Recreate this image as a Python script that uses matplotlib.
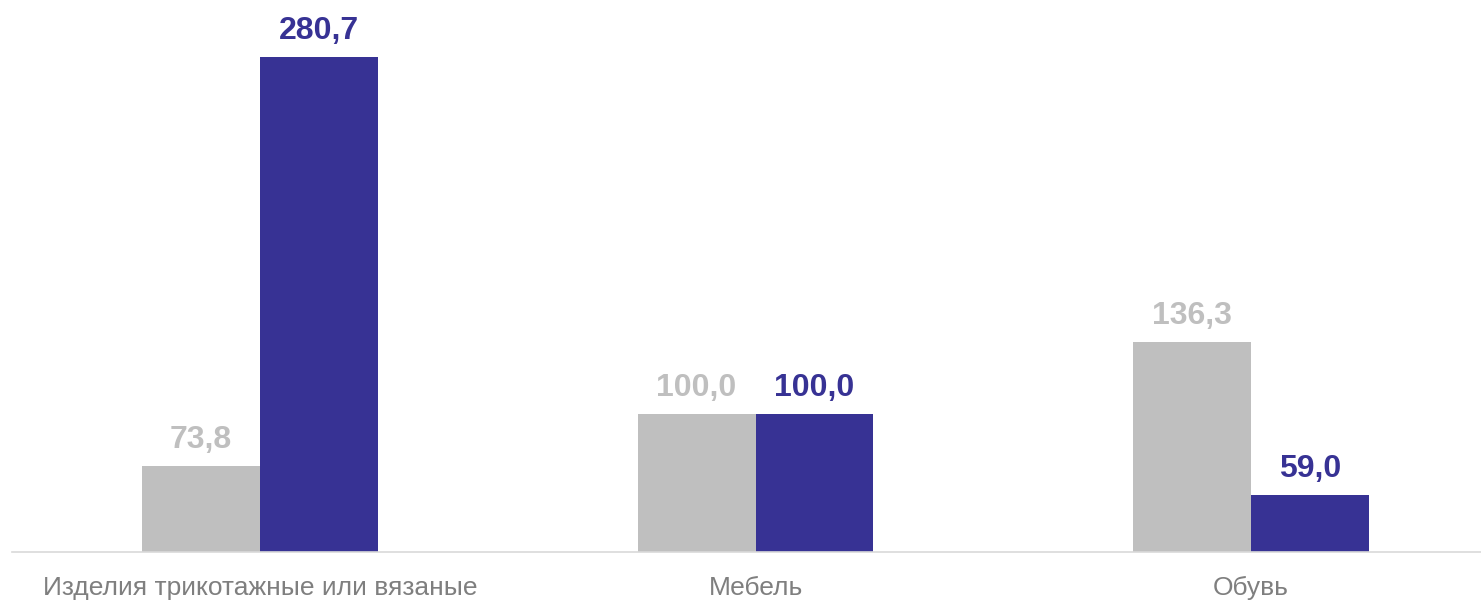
import numpy as np
import matplotlib.pyplot as plt

plt.rcParams['font.family'] = ['Liberation Sans', 'DejaVu Sans']

categories = ["Изделия трикотажные или вязаные", "Мебель", "Обувь"]
series_a = [73.8, 100.0, 136.3]
series_b = [280.7, 100.0, 59.0]

gray = "#bfbfbf"
blue = "#373294"

fig = plt.figure(figsize=(14.81, 6), dpi=100)
ax = fig.add_axes([12 / 1481, 48 / 600, 1 - 12 / 1481, 552 / 600])

x = np.arange(len(categories))
w = 0.238
bars_a = ax.bar(x - w / 2, series_a, w, color=gray)
bars_b = ax.bar(x + w / 2, series_b, w, color=blue)

def fmt(v):
    return f"{v:.1f}".replace(".", ",")

for b, v in zip(bars_a, series_a):
    ax.annotate(fmt(v), (b.get_x() + b.get_width() / 2, v), xytext=(0, 8),
                textcoords="offset points", ha="center", va="bottom",
                fontsize=23, fontweight="bold", color=gray)
for b, v in zip(bars_b, series_b):
    ax.annotate(fmt(v), (b.get_x() + b.get_width() / 2, v), xytext=(0, 8),
                textcoords="offset points", ha="center", va="bottom",
                fontsize=23, fontweight="bold", color=blue)

ax.set_ylim(30.2, 309.6)
ax.set_xlim(-0.5005, 2.464)
ax.set_xticks(x)
ax.set_xticklabels(categories, fontsize=19, color="#7f7f7f")
ax.tick_params(axis="x", length=0, pad=17)
ax.set_yticks([])
for s in ["top", "right", "left"]:
    ax.spines[s].set_visible(False)
ax.spines["bottom"].set_color("#d9d9d9")
ax.spines["bottom"].set_linewidth(1.2)

fig.savefig("out.png", dpi=100)
